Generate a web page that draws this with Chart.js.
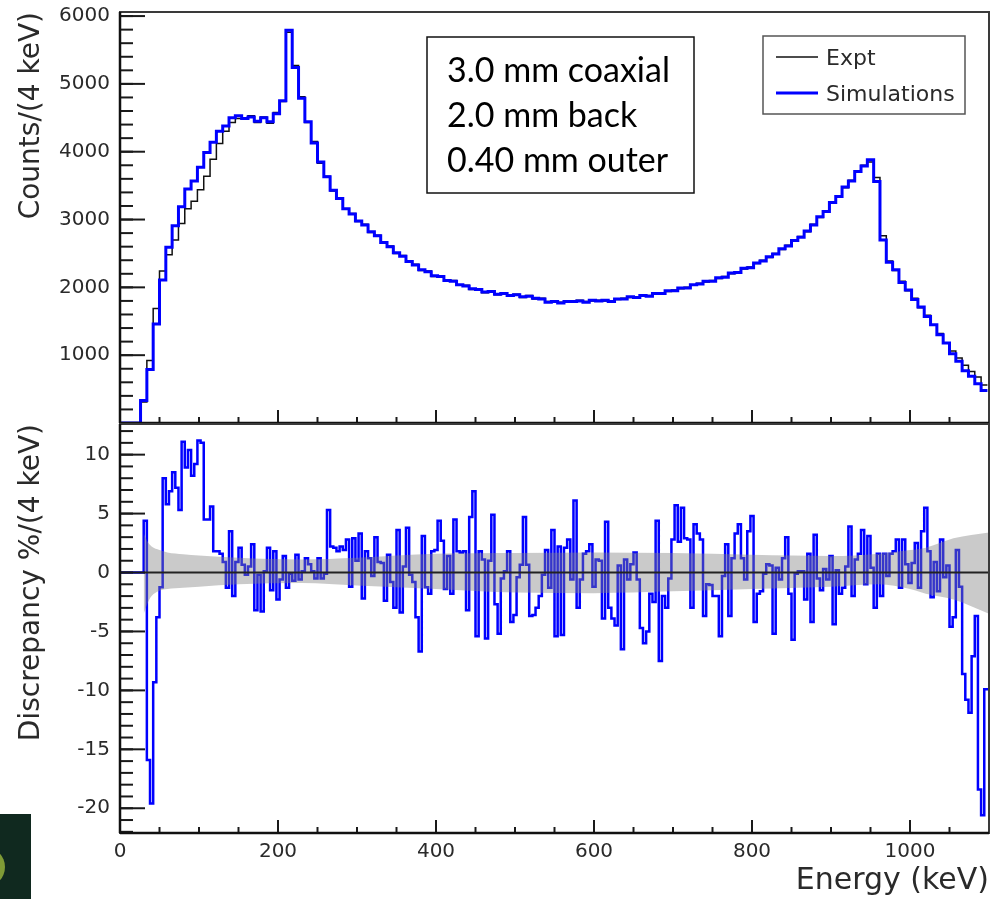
<!DOCTYPE html>
<html>
<head>
<meta charset="utf-8">
<script src="https://cdn.jsdelivr.net/npm/chart.js@4.4.1/dist/chart.umd.min.js"></script>
<style>
    body { margin: 0; background: #fff; }
    #wrap { position: relative; width: 997px; height: 899px; overflow: hidden; }
    #topChart { position: absolute; left: 0; top: 0; }
    #bottomChart { position: absolute; left: 0; top: 423px; }
    #badge { position: absolute; left: 0; top: 814px; width: 31px; height: 85px; background: #10291f; overflow: hidden; }
    #badge .dot { position: absolute; left: -35px; top: 33px; width: 40px; height: 40px; border-radius: 50%; background: #7f9b36; }
</style>
</head>
<body>
<div id="wrap">
    <canvas id="topChart" width="997" height="424"></canvas>
    <canvas id="bottomChart" width="997" height="476"></canvas>
    <div id="badge"><div class="dot"></div></div>
</div>
<script>
// spectrum: 8 keV wide bins starting at 26 keV (counts per 4 keV)
const specStart = 26;
const specBin = 8;
const simCounts = [
    330, 790, 1460, 2110, 2590, 2910, 3190, 3450, 3570, 3770,
    3990, 4140, 4300, 4380, 4500, 4530, 4490, 4510, 4450, 4500,
    4440, 4560, 4750, 5790, 5240, 4790, 4440, 4130, 3850, 3630,
    3430, 3310, 3160, 3080, 2980, 2920, 2820, 2760, 2660, 2600,
    2510, 2460, 2380, 2330, 2260, 2230, 2170, 2160, 2100, 2090,
    2040, 2020, 1980, 1970, 1930, 1940, 1900, 1910, 1880, 1890,
    1860, 1870, 1840, 1830, 1780, 1790, 1770, 1790, 1790, 1800,
    1780, 1810, 1800, 1810, 1790, 1830, 1830, 1860, 1850, 1880,
    1870, 1910, 1910, 1950, 1950, 1990, 1990, 2040, 2050, 2090,
    2090, 2140, 2150, 2210, 2220, 2280, 2290, 2360, 2390, 2450,
    2490, 2570, 2610, 2690, 2740, 2830, 2920, 3040, 3120, 3250,
    3340, 3480, 3570, 3710, 3790, 3880, 3560, 2700, 2370, 2260,
    2070, 1960, 1820, 1710, 1570, 1450, 1300, 1180, 1020, 910,
    770, 690, 580, 480
];
const exptCounts = [
    310, 920, 1690, 2240, 2480, 2700, 2940, 3160, 3270, 3440,
    3640, 3890, 4120, 4300, 4430, 4490, 4480, 4530, 4430, 4510,
    4420, 4580, 4740, 5760, 5270, 4810, 4430, 4150, 3830, 3640,
    3420, 3320, 3150, 3090, 2970, 2930, 2810, 2770, 2650, 2610,
    2500, 2470, 2370, 2340, 2250, 2240, 2160, 2170, 2090, 2100,
    2030, 2030, 1970, 1980, 1920, 1950, 1890, 1920, 1870, 1900,
    1850, 1880, 1830, 1840, 1790, 1800, 1780, 1800, 1780, 1810,
    1790, 1800, 1810, 1800, 1800, 1820, 1840, 1850, 1860, 1870,
    1880, 1900, 1920, 1940, 1960, 1980, 2000, 2030, 2060, 2080,
    2100, 2130, 2160, 2200, 2230, 2270, 2300, 2350, 2400, 2440,
    2500, 2560, 2620, 2680, 2750, 2820, 2930, 3030, 3130, 3240,
    3350, 3470, 3580, 3700, 3800, 3850, 3620, 2760, 2390, 2250,
    2090, 1950, 1840, 1700, 1590, 1440, 1320, 1180, 1060, 960,
    850, 760, 680, 560
];

// discrepancy in %, 4 keV bins starting at 30 keV
const discStart = 30;
const discBin = 4;
const discrepancy = [
    4.4, -15.9, -19.6, -9.3, -3.8, -1.25, 8.0, 5.8, 6.9, 8.5,
    7.2, 5.3, 11.1, 8.9, 10.4, 8.2, 9.2, 11.2, 11.0, 4.5,
    4.5, 5.6, 1.8, 1.8, 1.6, 0.9, -1.3, 3.5, -2.0, 0.9,
    2.1, 0.65, -0.2, 0.5, 2.4, -3.2, -0.2, -3.3, 0.1, 2.1,
    -1.5, 1.8, -2.3, -0.6, 1.4, -1.3, -0.1, -0.7, 1.5, -0.6,
    0.1, 1.2, 0.7, 0.1, -0.5, 1.2, -0.5, -0.1, 5.3, 2.2,
    2.1, 1.8, 2.2, 1.9, 2.8, -1.2, 2.9, 1.0, 3.3, -2.2,
    1.8, 1.2, -0.3, 3.0, 0.9, 0.8, -2.4, 1.5, -0.8, -3.0,
    3.6, -3.4, 0.5, 3.8, -0.2, -0.8, -3.8, -6.7, 3.1, -1.25,
    -1.8, 1.8, 1.9, 4.4, 2.7, -1.4, 1.4, -1.8, 4.5, 1.8,
    1.7, 1.8, -3.2, 4.7, 6.9, -5.4, 1.8, 1.1, -5.6, 1.0,
    4.9, -2.7, -5.2, -0.5, 0.1, 1.8, -4.2, -3.6, -0.4, 0.65,
    4.7, 0.65, -3.7, -3.6, -3.0, -2.0, -0.2, 1.9, -1.3, 3.6,
    -5.4, 2.2, -5.3, 2.1, 2.8, -0.6, 6.1, -3.0, -0.6, 1.6,
    1.8, 2.4, -1.2, 1.1, 1.0, -3.9, 4.3, -3.0, -3.9, -4.5,
    0.6, -6.5, 1.1, -0.6, 0.7, 1.7, -0.6, -4.7, -6.0, -5.0,
    -1.8, -2.5, 4.4, -7.5, -2.0, -3.0, -0.5, 2.8, 5.7, 2.6,
    5.5, 2.9, 2.8, -3.0, 4.1, 3.3, 2.8, -3.7, -1.0, -1.05,
    -2.0, -2.0, -5.4, -0.3, 2.4, -3.7, 1.2, 3.3, 4.1, 1.2,
    -0.6, 3.5, 4.8, -4.2, -1.8, -1.6, -0.1, 0.7, 0.6, -5.2,
    0.4, -0.6, 1.2, 3.0, -1.8, -5.7, -0.1, 0.1, 0.1, -2.3,
    1.6, -4.2, 3.2, -0.5, -1.5, 0.3, -0.6, 1.4, -4.4, 0.2,
    -1.8, -1.3, 0.5, 3.9, -2.0, 1.1, 1.6, 3.6, -1.0, 3.1,
    0.4, -3.0, 1.6, -2.0, 1.6, -0.3, 1.6, 1.8, 2.8, -1.3,
    2.8, 0.7, -0.9, 0.8, 2.5, -1.3, 3.5, 5.5, 1.8, -2.1,
    0.9, -1.6, 2.8, -0.4, 0.6, -4.6, -3.8, 1.9, -1.2, -8.6,
    -10.8, -11.9, -7.1, -3.7, -18.4, -20.6, -9.9, -9.9
];

// grey uncertainty band around zero
const bandEnergy = [30, 35, 40, 50, 60, 80, 100, 150, 230, 300, 400, 500, 600, 700, 800, 900, 960, 1000, 1020, 1055, 1100];
const bandUpper = [3.3, 2.6, 2.2, 1.9, 1.7, 1.55, 1.45, 1.25, 1.1, 1.25, 1.6, 1.65, 1.7, 1.65, 1.5, 1.4, 1.6, 1.9, 2.1, 2.9, 3.4];
const bandLower = [-3.5, -2.6, -2.0, -1.55, -1.4, -1.3, -1.2, -1.0, -0.9, -1.1, -1.4, -1.7, -1.75, -1.6, -1.4, -1.2, -1.0, -1.4, -1.8, -2.3, -3.5];

const xMax = 1100;
const xMajor = [0, 200, 400, 600, 800, 1000];
const countTicks = [0, 1000, 2000, 3000, 4000, 5000, 6000];
const discTicks = [-20, -15, -10, -5, 0, 5, 10];
const infoLines = ['3.0 mm coaxial', '2.0 mm back', '0.40 mm outer'];

const FONT = 'DejaVu Sans';
const TEXT = '#2a2a2a';
const BLUE = '#0000ff';

function histPoints(start, width, values) {
    const pts = [{ x: 0, y: 0 }];
    values.forEach((v, i) => pts.push({ x: start + i * width, y: v }));
    pts.push({ x: start + values.length * width, y: values[values.length - 1] });
    return pts;
}

function steps(from, to, step) {
    const out = [];
    for (let v = from; v <= to + 1e-9; v += step) out.push(Math.round(v * 1000) / 1000);
    return out;
}

// keep the pad exactly where the layout padding puts it
function fixSize(size) {
    return (s) => {
        if (s.isHorizontal()) s.height = size;
        else s.width = size;
        s.paddingTop = 0;
        s.paddingBottom = 0;
        s.paddingLeft = 0;
        s.paddingRight = 0;
    };
}

// ROOT-like frame with ticks drawn inside the pad
const rootAxes = {
    id: 'rootAxes',
    afterDatasetsDraw(chart, args, o) {
        const { ctx, chartArea: a } = chart;
        const xs = chart.scales.x;
        const ys = chart.scales.y;
        const line = (x1, y1, x2, y2) => {
            ctx.beginPath();
            ctx.moveTo(x1, y1);
            ctx.lineTo(x2, y2);
            ctx.stroke();
        };
        ctx.save();
        ctx.strokeStyle = '#1a1a1a';
        ctx.lineWidth = 2;
        o.yMinor.forEach((v) => { const y = ys.getPixelForValue(v); line(a.left, y, a.left + 13, y); });
        o.yMajor.forEach((v) => { const y = ys.getPixelForValue(v); line(a.left, y, a.left + 25, y); });
        o.xMinor.forEach((v) => { const x = xs.getPixelForValue(v); line(x, a.bottom, x, a.bottom - 6); });
        o.xMajor.forEach((v) => { const x = xs.getPixelForValue(v); line(x, a.bottom, x, a.bottom - 13); });
        ctx.strokeStyle = '#3a3a3a';
        ctx.lineWidth = 2;
        ctx.strokeRect(a.left, a.top, a.right - a.left, a.bottom - a.top);
        ctx.strokeStyle = '#111';
        ctx.lineWidth = 2.5;
        line(a.left, a.top, a.left, a.bottom);
        line(a.left, a.bottom, a.right, a.bottom);
        ctx.restore();
    },
};

// text box and legend of the upper pad
const topOverlay = {
    id: 'topOverlay',
    afterDraw(chart) {
        const { ctx } = chart;
        ctx.save();
        ctx.fillStyle = '#fff';
        ctx.fillRect(427, 37, 267, 156);
        ctx.strokeStyle = '#111';
        ctx.lineWidth = 1.5;
        ctx.strokeRect(427, 37, 267, 156);
        ctx.fillStyle = '#000';
        ctx.font = '34px Lato';
        ctx.textBaseline = 'alphabetic';
        infoLines.forEach((t, i) => ctx.fillText(t, 447, 82 + i * 45));

        ctx.fillStyle = '#fff';
        ctx.fillRect(763, 36, 202, 78);
        ctx.strokeStyle = '#555';
        ctx.lineWidth = 1.5;
        ctx.strokeRect(763, 36, 202, 78);
        const order = [1, 0];
        ctx.font = '22px "DejaVu Sans"';
        order.forEach((di, i) => {
            const ds = chart.data.datasets[di];
            const y = 57 + i * 36;
            ctx.strokeStyle = ds.borderColor;
            ctx.lineWidth = ds.borderWidth;
            ctx.beginPath();
            ctx.moveTo(776, y);
            ctx.lineTo(818, y);
            ctx.stroke();
            ctx.fillStyle = TEXT;
            ctx.fillText(ds.label, 826, y + 8);
        });
        ctx.restore();
    },
};

const xMinorTicks = steps(0, xMax, 50);
const noGrid = { display: false, drawTicks: false, tickLength: 0 };

new Chart(document.getElementById('topChart'), {
    type: 'line',
    data: {
        datasets: [
            {
                label: 'Simulations',
                data: histPoints(specStart, specBin, simCounts),
                borderColor: BLUE,
                borderWidth: 3,
                stepped: true,
                pointRadius: 0,
            },
            {
                label: 'Expt',
                data: histPoints(specStart, specBin, exptCounts),
                borderColor: '#111',
                borderWidth: 1.5,
                stepped: true,
                pointRadius: 0,
            },
        ],
    },
    options: {
        responsive: false,
        devicePixelRatio: 1,
        animation: false,
        events: [],
        layout: { padding: { left: 0, right: 8, top: 12, bottom: 1 } },
        scales: {
            x: { type: 'linear', min: 0, max: xMax, display: false },
            y: {
                min: 0,
                max: 6060,
                bounds: 'data',
                afterBuildTicks: (s) => { s.ticks = countTicks.map((v) => ({ value: v })); },
                afterFit: fixSize(120),
                grid: noGrid,
                border: { display: false },
                ticks: {
                    font: { family: FONT, size: 20 },
                    color: TEXT,
                    padding: 10,
                    autoSkip: false,
                    callback: (v) => (v === 0 ? '' : String(v)),
                },
                title: {
                    display: true,
                    text: 'Counts/(4 keV)',
                    align: 'end',
                    color: TEXT,
                    font: { family: FONT, size: 28 },
                    padding: { top: 15, bottom: 0 },
                },
            },
        },
        plugins: {
            legend: { display: false },
            tooltip: { enabled: false },
            rootAxes: {
                xMajor: xMajor,
                xMinor: xMinorTicks,
                yMajor: countTicks,
                yMinor: steps(0, 6000, 200),
            },
        },
    },
    plugins: [rootAxes, topOverlay],
});

new Chart(document.getElementById('bottomChart'), {
    type: 'line',
    data: {
        datasets: [
            {
                label: 'zero',
                data: [{ x: discStart, y: 0 }, { x: xMax, y: 0 }],
                borderColor: '#222',
                borderWidth: 2,
                pointRadius: 0,
            },
            {
                label: 'band low',
                data: bandEnergy.map((e, i) => ({ x: e, y: bandLower[i] })),
                borderWidth: 0,
                borderColor: 'rgba(0,0,0,0)',
                backgroundColor: 'rgba(128,128,128,0.42)',
                fill: '+1',
                cubicInterpolationMode: 'monotone',
                pointRadius: 0,
            },
            {
                label: 'band high',
                data: bandEnergy.map((e, i) => ({ x: e, y: bandUpper[i] })),
                borderWidth: 0,
                borderColor: 'rgba(0,0,0,0)',
                fill: false,
                cubicInterpolationMode: 'monotone',
                pointRadius: 0,
            },
            {
                label: 'Discrepancy',
                data: histPoints(discStart, discBin, discrepancy),
                borderColor: BLUE,
                borderWidth: 2.5,
                stepped: true,
                pointRadius: 0,
            },
        ],
    },
    options: {
        responsive: false,
        devicePixelRatio: 1,
        animation: false,
        events: [],
        layout: { padding: { left: 0, right: 8, top: 1, bottom: 0 } },
        scales: {
            x: {
                type: 'linear',
                min: 0,
                max: xMax,
                bounds: 'data',
                afterBuildTicks: (s) => { s.ticks = xMajor.map((v) => ({ value: v })); },
                afterFit: fixSize(66),
                grid: noGrid,
                border: { display: false },
                ticks: {
                    font: { family: FONT, size: 20 },
                    color: TEXT,
                    padding: 7,
                    maxRotation: 0,
                    autoSkip: false,
                    callback: (v) => String(v),
                },
                title: {
                    display: true,
                    text: 'Energy (keV)',
                    align: 'end',
                    color: TEXT,
                    font: { family: FONT, size: 30 },
                    padding: { top: 0, bottom: 0 },
                },
            },
            y: {
                min: -22.1,
                max: 12.6,
                bounds: 'data',
                afterBuildTicks: (s) => { s.ticks = discTicks.map((v) => ({ value: v })); },
                afterFit: fixSize(120),
                grid: noGrid,
                border: { display: false },
                ticks: {
                    font: { family: FONT, size: 20 },
                    color: TEXT,
                    padding: 10,
                    autoSkip: false,
                },
                title: {
                    display: true,
                    text: 'Discrepancy %/(4 keV)',
                    align: 'end',
                    color: TEXT,
                    font: { family: FONT, size: 28 },
                    padding: { top: 15, bottom: 0 },
                },
            },
        },
        plugins: {
            legend: { display: false },
            tooltip: { enabled: false },
            rootAxes: {
                xMajor: xMajor,
                xMinor: xMinorTicks,
                yMajor: discTicks,
                yMinor: steps(-22, 12, 1),
            },
        },
    },
    plugins: [rootAxes],
});
</script>
</body>
</html>
